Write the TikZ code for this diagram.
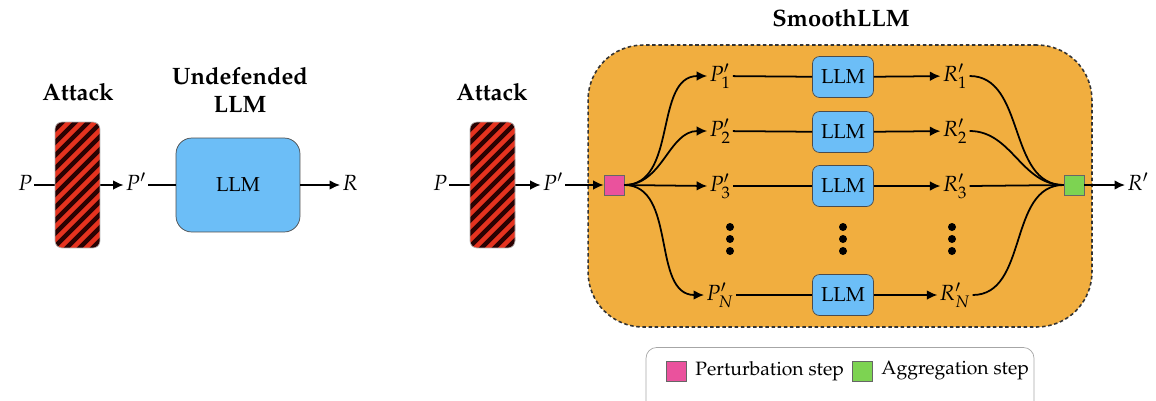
\documentclass[tikz,border=0pt]{standalone}
\usepackage[T1]{fontenc}
\usepackage{mathpazo}
\usepackage{xcolor}
\usetikzlibrary{arrows.meta, positioning}

\definecolor{llmblue}{HTML}{6CBEF7}
\definecolor{frameorange}{HTML}{F1AE3F}
\definecolor{pertpink}{HTML}{EA529D}
\definecolor{agggreen}{HTML}{7DD352}
\definecolor{stripered}{HTML}{E5331F}
\definecolor{stripedark}{HTML}{2A0202}

\tikzset{
  title/.style={font=\bfseries\fontsize{13.5}{16}\selectfont, align=center, inner sep=0pt},
  var/.style={font=\fontsize{12.5}{14}\selectfont, inner sep=1pt, text height=1.8ex, text depth=0.5ex},
  link/.style={line width=1pt},
  arr/.style={line width=1pt, -{Latex[length=6pt, width=5.5pt]}},
  llmbig/.style={draw=gray!60!black, fill=llmblue, rounded corners=9pt,
    minimum width=2.48cm, minimum height=1.88cm, font=\fontsize{11.5}{13}\selectfont},
  llm/.style={draw=gray!60!black, fill=llmblue, rounded corners=4pt,
    minimum width=1.22cm, minimum height=0.82cm, font=\fontsize{11.5}{13}\selectfont},
  attack/.style={draw=gray!60, fill=stripered, rounded corners=4pt,
    minimum width=0.9cm, minimum height=2.52cm,
    path picture={
      \foreach \k in {-8,...,8}
        \draw[line width=2.6pt, stripedark]
          ([shift={(-40,\k*13+40)}]path picture bounding box.center) -- ++(80,-80);
    }},
  frame/.style={draw=black!80, fill=frameorange, dash pattern=on 2pt off 1.5pt,
    line width=0.9pt, rounded corners=1.1cm, minimum width=10.08cm, minimum height=5.64cm},
  stepbox/.style={draw=black!60, minimum size=0.4cm, inner sep=0pt},
  legendtext/.style={font=\fontsize{11}{13}\selectfont, anchor=west, inner sep=0pt}
}

\begin{document}
\begin{tikzpicture}[x=0.02cm, y=-0.02cm]
  \useasboundingbox (0,0) rectangle (1156,400);
  \clip (0,0) rectangle (1156,400);

  % undefended pipeline
  \node[title] (atktitle) at (78,92) {Attack};
  \node[var] (P) at (25,185) {$P$};
  \node[var] (Pp) at (136,185) {$P'$};
  \draw[arr] (P) -- (Pp);
  \node[attack] (atk) at (77.5,185) {};
  \node[title] (undef) at (240,90) {Undefended\\LLM};
  \node[llmbig] (llm) at (238,185) {LLM};
  \node[var] (R) at (350,185) {$R$};
  \draw[link] (Pp) -- (llm);
  \draw[arr] (llm) -- (R);

  % SmoothLLM pipeline
  \node[frame] (frame) at (840,186) {};
  \node[title] (smooth) at (841,18) {SmoothLLM};
  \node[title] (atktitle2) at (492,92) {Attack};
  \node[var] (Pin) at (440,185) {$P$};
  \node[var] (Pq) at (553,185) {$P'$};
  \draw[arr] (Pin) -- (Pq);
  \node[attack] (atk2) at (492.5,185) {};
  \node[stepbox, fill=pertpink] (pert) at (614,185) {};
  \node[stepbox, fill=agggreen] (agg) at (1074,185) {};
  \draw[arr] (Pq) -- (pert);

  \node[var] (P1) at (720,76) {$P'_1$};
  \node[var] (P2) at (720,131) {$P'_2$};
  \node[var] (P3) at (720,186) {$P'_3$};
  \node[var] (PN) at (720,295) {$P'_N$};
  \node[llm] (L1) at (843,77) {LLM};
  \node[llm] (L2) at (843,132) {LLM};
  \node[llm] (L3) at (843,186) {LLM};
  \node[llm] (LN) at (843,295) {LLM};
  \node[var] (R1) at (955,76) {$R'_1$};
  \node[var] (R2) at (955,131) {$R'_2$};
  \node[var] (R3) at (955,186) {$R'_3$};
  \node[var] (RN) at (955,295) {$R'_N$};
  \node[var] (Rout) at (1138,185) {$R'$};

  \draw[arr] (pert.east) to[out=0, in=180] (P1.west);
  \draw[arr] (pert.east) to[out=0, in=180] (P2.west);
  \draw[arr] (pert.east) -- (P3.west);
  \draw[arr] (pert.east) to[out=0, in=180] (PN.west);

  \draw[link] (P1) -- (L1);
  \draw[link] (P2) -- (L2);
  \draw[link] (P3) -- (L3);
  \draw[link] (PN) -- (LN);
  \draw[arr] (L1) -- (R1);
  \draw[arr] (L2) -- (R2);
  \draw[arr] (L3) -- (R3);
  \draw[arr] (LN) -- (RN);

  \draw[link] (R1.east) to[out=0, in=180] (agg.west);
  \draw[link] (R2.east) to[out=0, in=180] (agg.west);
  \draw[link] (R3.east) -- (agg.west);
  \draw[link] (RN.east) to[out=0, in=180] (agg.west);
  \draw[arr] (agg) -- (Rout);

  % vertical dots
  \fill (730,227) circle (4) (730,239) circle (4) (730,251) circle (4);
  \fill (843,227) circle (4) (843,239) circle (4) (843,251) circle (4);
  \fill (952,227) circle (4) (952,239) circle (4) (952,251) circle (4);

  % legend
  \node[draw=gray!70, rounded corners=6pt, minimum width=7.76cm, minimum height=1.3cm] (legend) at (840,380) {};
  \node[stepbox, fill=pertpink] (legpert) at (676,371) {};
  \node[legendtext, right=5pt of legpert] (legperttext) {Perturbation step};
  \node[stepbox, fill=agggreen] (legagg) at (862,371) {};
  \node[legendtext, right=5pt of legagg] (legaggtext) {Aggregation step};
\end{tikzpicture}
\end{document}
